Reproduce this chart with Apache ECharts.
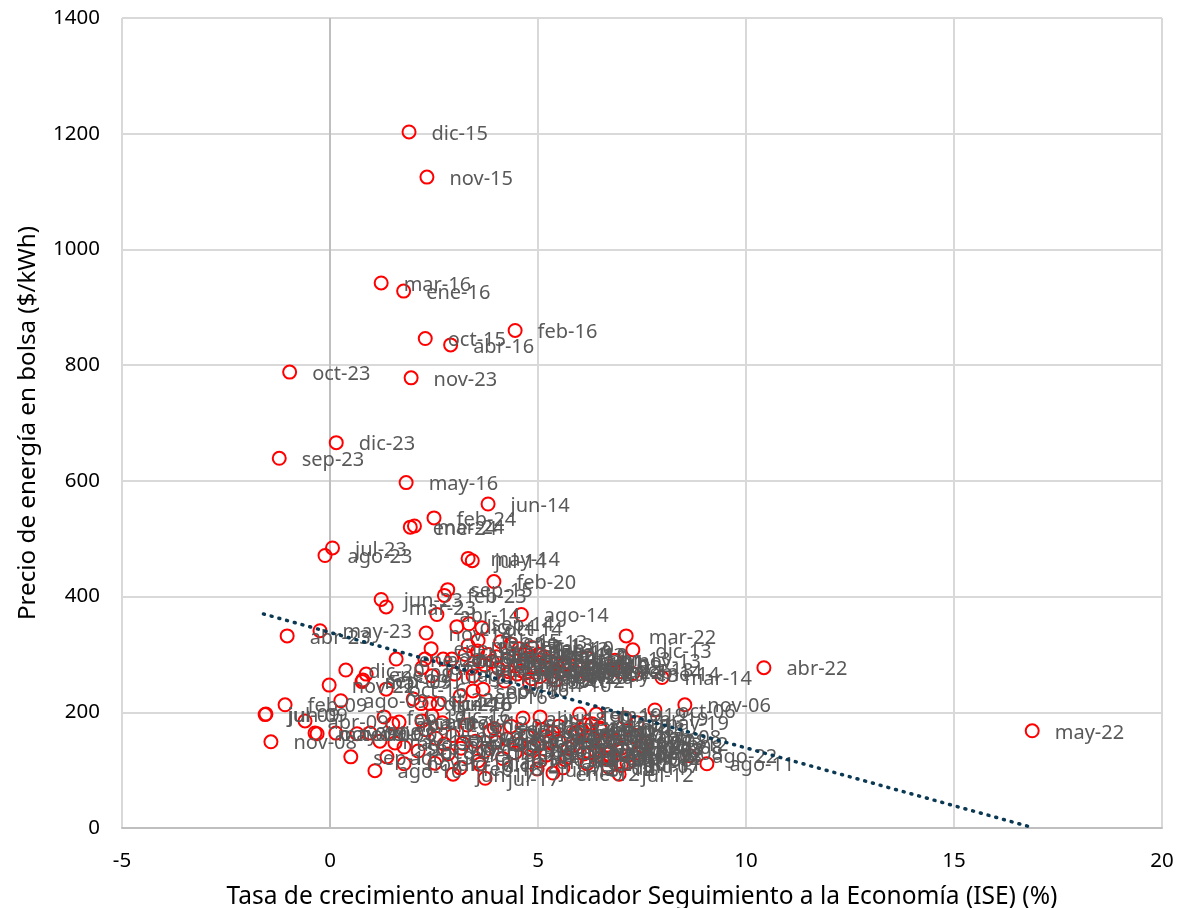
<!DOCTYPE html>
<html>
<head>
<meta charset="utf-8">
<title>Precio de energía vs ISE</title>
<script src="https://cdn.jsdelivr.net/npm/echarts@6/dist/echarts.min.js"></script>
<style>
  html, body { margin: 0; padding: 0; background: #fff; }
  #main { width: 1178px; height: 908px; }
</style>
</head>
<body>
<div id="main"></div>
<script>
// meses, en el mismo orden que monthX / monthY
const monthLabels = [
  'dic-15','nov-15','mar-16','ene-16','feb-16','oct-15','abr-16','oct-23','nov-23','dic-23',
  'sep-23','may-16','jun-14','feb-24','ene-24','mar-24','jul-23','ago-23','may-14','jul-14',
  'feb-20','sep-15','feb-23','jun-23','mar-23','abr-14','ago-14','mar-22','dic-13','abr-22',
  'may-22','nov-06','oct-06','mar-14','may-23','abr-23','nov-14','dic-14','sep-14','oct-14',
  'ene-23','ene-15','feb-15','mar-15','abr-15','may-15','jun-15','jul-15','ago-15','dic-20',
  'ene-09','mar-09','sep-09','nov-22','oct-16','ago-09','feb-09','jul-09','abr-09','nov-08',
  'jun-09','may-09','oct-09','nov-09','dic-09','dic-08','sep-11','ago-10','ago-19','jul-17',
  'jun-17','ago-11','ago-22','ene-12','jul-12','jul-11','jun-10','nov-13','oct-13','ene-14',
  'feb-14','abr-13','may-13','jun-13','jul-13','ago-13','sep-13','ene-13','feb-13','mar-13',
  'ene-10','feb-10','mar-10','abr-10','may-10','jul-10','sep-10','oct-10','nov-10','dic-10',
  'ene-20','mar-20','abr-20','may-20','jun-20','jul-20','ago-20','sep-20','oct-20','nov-20',
  'ene-21','feb-21','mar-21','abr-21','may-21','jun-21','jul-21','ago-21','sep-21','oct-21',
  'nov-21','dic-21','ene-22','feb-22','jun-22','jul-22','sep-22','oct-22','dic-22','jun-16',
  'jul-16','ago-16','sep-16','nov-16','dic-16','ene-17','feb-17','mar-17','abr-17','may-17',
  'ago-17','sep-17','oct-17','nov-17','dic-17','ene-18','feb-18','mar-18','abr-18','may-18',
  'jun-18','jul-18','ago-18','sep-18','oct-18','nov-18','dic-18','ene-19','feb-19','mar-19',
  'abr-19','may-19','jun-19','jul-19','sep-19','oct-19','nov-19','dic-19','ene-06','feb-06',
  'mar-06','abr-06','may-06','jun-06','jul-06','ago-06','sep-06','dic-06','ene-07','feb-07',
  'mar-07','abr-07','may-07','jun-07','jul-07','ago-07','sep-07','oct-07','nov-07','dic-07',
  'ene-08','feb-08','mar-08','abr-08','may-08','jun-08','jul-08','ago-08','sep-08','oct-08',
  'ene-11','feb-11','mar-11','abr-11','may-11','jun-11','oct-11','nov-11','dic-11','feb-12',
  'mar-12','abr-12','may-12','jun-12','ago-12','sep-12','oct-12','nov-12','dic-12'
];
const monthX = [
  1.9,2.33,1.23,1.77,4.45,2.29,2.9,-0.97,1.95,0.15,
  -1.22,1.83,3.8,2.5,1.93,2.03,0.06,-0.12,3.32,3.42,
  3.94,2.83,2.75,1.23,1.35,2.57,4.6,7.12,7.28,10.43,
  16.88,8.53,7.81,7.98,-0.24,-1.03,2.31,3.05,3.34,3.65,
  1.59,2.43,3.56,3.32,2.72,2.93,2.21,2.45,2.28,0.38,
  0.87,0.77,0.79,-0.02,1.35,0.26,-1.08,-1.56,-0.6,-1.42,
  -1.54,-0.36,-0.31,0.14,0.96,0.65,0.5,1.08,1.37,3.73,
  2.96,9.06,8.65,5.36,6.95,7.14,4.8,6.85,6.8,7.28,
  6.97,6.18,6.18,3.44,4.2,3.0,5.05,4.1,4.35,4.55,
  4.7,4.85,5.0,5.15,5.3,5.45,5.6,5.75,3.8,3.9,
  4.05,4.25,4.45,4.6,4.7,4.9,5.05,5.2,5.35,5.5,
  3.55,3.72,4.0,4.3,4.5,4.68,4.85,5.02,5.22,5.42,
  5.55,5.65,5.9,6.0,3.25,3.4,3.6,2.0,2.19,2.4,
  2.6,3.13,3.44,3.68,2.45,2.21,1.3,1.66,1.51,1.2,
  1.56,1.78,2.12,1.78,2.52,2.84,3.13,3.56,4.64,5.05,
  4.98,6.18,6.68,6.49,5.94,5.72,4.57,4.25,6.0,6.4,
  7.09,7.38,5.05,2.3,2.55,2.75,2.95,3.15,3.3,3.5,
  3.7,3.85,4.0,4.15,4.35,4.45,4.75,4.9,5.2,5.35,
  5.5,5.65,5.85,6.05,6.25,6.35,6.6,6.8,6.9,7.0,
  6.2,6.4,6.55,6.7,6.85,7.0,7.15,7.3,7.4,7.5,
  5.1,5.3,5.5,5.7,5.9,6.1,6.3,6.5,6.7,7.6,
  6.75,6.15,5.6,5.2,4.8,3.95,3.2,2.7,3.6
];
const monthY = [
  1203,1125,942,928,860,846,835,788,778,666,
  639,597,560,536,520,522,484,471,466,462,
  426,412,402,395,382,369,369,332,308,277,
  168,213,204,260,341,332,337,348,353,346,
  292,310,324,315,292,292,277,263,292,273,
  266,253,256,247,240,220,213,196,185,149,
  197,164,163,164,164,163,123,99,123,86,
  93,111,125,95,93,112,249,290,275,267,
  270,294,266,263,254,266,300,322,318,310,
  305,312,300,296,288,284,280,282,300,288,
  276,290,280,272,268,278,262,274,262,268,
  306,282,296,270,266,300,258,286,276,256,
  270,286,270,280,300,276,288,223,215,215,
  215,228,237,240,194,185,192,183,180,150,
  147,140,133,111,112,128,104,116,190,116,
  102,111,128,173,163,138,145,154,197,197,
  190,182,192,170,155,145,160,138,178,150,
  132,168,148,120,176,130,158,142,126,165,
  150,118,142,170,130,155,122,150,135,108,
  160,132,148,118,152,138,125,158,130,142,
  170,150,176,122,165,128,180,170,105,146,
  122,178,104,158,136,172,146,182,110
];

const trendX = [-1.6, 16.83];
const trendY = [370, 2];

const chart = echarts.init(document.getElementById('main'));
const fontName = '"Noto Sans", sans-serif';

chart.setOption({
  animation: false,
  grid: { left: 122, right: 16, top: 18, bottom: 80, outerBoundsMode: 'none' },
  xAxis: {
    type: 'value',
    min: -5, max: 20, interval: 5,
    name: 'Tasa de crecimiento anual Indicador Seguimiento a la Economía (ISE) (%)',
    nameLocation: 'middle',
    nameGap: 57,
    nameTextStyle: { fontFamily: fontName, fontSize: 24.5, color: '#000' },
    axisLine: { show: true, onZero: false, lineStyle: { color: '#bfbfbf', width: 2 } },
    axisTick: { show: false },
    axisLabel: { fontFamily: fontName, fontSize: 20.5, color: '#000', margin: 23 },
    splitLine: { show: true, lineStyle: { color: ['#d9d9d9', '#bfbfbf', '#d9d9d9', '#d9d9d9', '#d9d9d9', '#d9d9d9'], width: 2 } }
  },
  yAxis: {
    type: 'value',
    min: 0, max: 1400, interval: 200,
    name: 'Precio de energía en bolsa ($/kWh)',
    nameLocation: 'middle',
    nameGap: 82,
    nameTextStyle: { fontFamily: fontName, fontSize: 24.2, color: '#000' },
    axisLine: { show: false, onZero: false },
    axisTick: { show: false },
    axisLabel: { fontFamily: fontName, fontSize: 20.5, color: '#000', margin: 22, formatter: v => String(v) },
    splitLine: { show: true, lineStyle: { color: '#d9d9d9', width: 2 } }
  },
  series: [
    {
      name: 'Meses',
      type: 'scatter',
      symbol: 'circle',
      symbolSize: 13,
      itemStyle: { color: 'rgba(255,255,255,0)', borderColor: '#ff0000', borderWidth: 2, opacity: 1 },
      label: {
        show: true,
        position: 'right',
        distance: 15,
        offset: [0, 2],
        fontFamily: fontName,
        fontSize: 20,
        color: '#595959',
        formatter: p => p.data[2]
      },
      data: monthX.map((x, i) => [x, monthY[i], monthLabels[i]])
    },
    {
      name: 'Tendencia',
      type: 'line',
      symbol: 'none',
      z: 3,
      lineStyle: { color: '#0b3954', width: 3.5, type: [1, 7], cap: 'round' },
      data: trendX.map((x, i) => [x, trendY[i]])
    }
  ]
});
</script>
</body>
</html>
